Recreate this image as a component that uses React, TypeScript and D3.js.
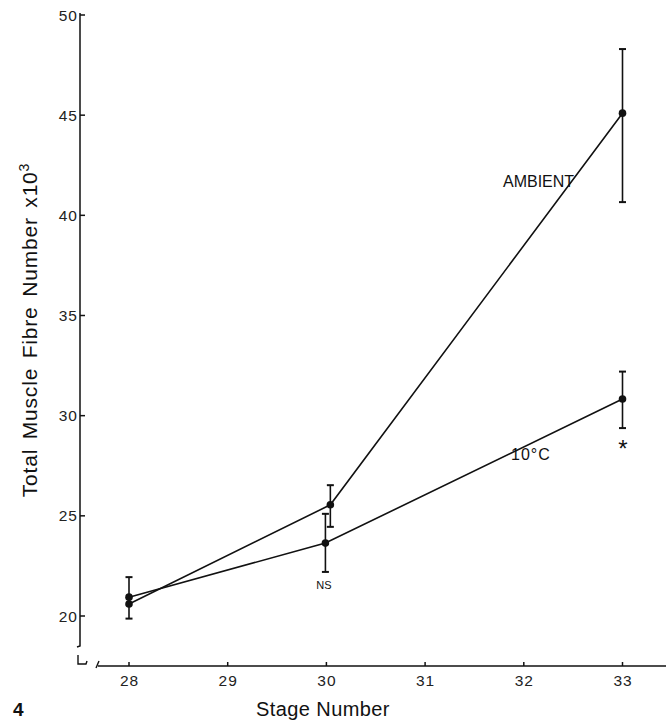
import React from "react";
import * as d3 from "d3";

const stageTicks = [28, 29, 30, 31, 32, 33];
const fibreTicks = [20, 25, 30, 35, 40, 45, 50];

// Ambient series
const ambientStage = [28, 30.04, 33];
const ambientValue = [20.6, 25.55, 45.1];
const ambientLow = [19.87, 24.45, 40.66];
const ambientHigh = [21.94, 26.53, 48.3];

// 10°C series
const coldStage = [28, 29.99, 33];
const coldValue = [20.94, 23.64, 30.83];
const coldLow: (number | null)[] = [null, 22.2, 29.38];
const coldHigh: (number | null)[] = [null, 25.1, 32.2];

const W = 666;
const H = 721;
const FONT = "'Liberation Sans', Arial, Helvetica, sans-serif";

export default function App() {
  const x = d3.scaleLinear().domain([28, 33]).range([129, 622.5]);
  const y = d3.scaleLinear().domain([20, 50]).range([616, 15]);

  const line = d3
    .line<[number, number]>()
    .x((d) => x(d[0]))
    .y((d) => y(d[1]));

  const ambientPts = ambientStage.map((s, i) => [s, ambientValue[i]] as [number, number]);
  const coldPts = coldStage.map((s, i) => [s, coldValue[i]] as [number, number]);

  const errBar = (sx: number, lo: number | null, hi: number | null, key: string) => {
    if (lo == null || hi == null) return null;
    const cx = x(sx);
    return (
      <g key={key} stroke="#111" strokeWidth={1.6}>
        <line x1={cx} x2={cx} y1={y(lo)} y2={y(hi)} />
        <line x1={cx - 3.5} x2={cx + 3.5} y1={y(lo)} y2={y(lo)} strokeWidth={2} />
        <line x1={cx - 3.5} x2={cx + 3.5} y1={y(hi)} y2={y(hi)} strokeWidth={2} />
      </g>
    );
  };

  const axisX = 80;
  const axisY = 666;

  return (
    <svg
      width={W}
      height={H}
      style={{ position: "absolute", left: 0, top: 0, background: "#fff" }}
      fontFamily={FONT}
    >
      <rect width={W} height={H} fill="#fff" />
      {/* Y axis */}
      <path d={`M${axisX},13 L${axisX},646 L${axisX - 3},647`} fill="none" stroke="#111" strokeWidth={1.5} />
      {fibreTicks.map((t) => (
        <g key={"yt" + t}>
          <line x1={axisX} x2={axisX + 5} y1={y(t)} y2={y(t)} stroke="#111" strokeWidth={1.5} />
          <text x={axisX - 2} y={y(t)} dy="0.36em" textAnchor="end" fontSize={15.5} letterSpacing={1} fill="#222">
            {t}
          </text>
        </g>
      ))}
      {/* axis break */}
      <path d="M78,655 L78,664 L86,664 L87,661" fill="none" stroke="#111" strokeWidth={1.4} />
      <path d="M96,668 L99,661" fill="none" stroke="#111" strokeWidth={1.4} />
      {/* X axis */}
      <line x1={98} x2={666} y1={axisY} y2={axisY} stroke="#111" strokeWidth={1.5} />
      {stageTicks.map((t) => (
        <g key={"xt" + t}>
          <line x1={x(t)} x2={x(t)} y1={axisY} y2={axisY - 4} stroke="#111" strokeWidth={1.5} />
          <text x={x(t) + 0.5} y={686} textAnchor="middle" fontSize={15.5} letterSpacing={1} fill="#222">
            {t}
          </text>
        </g>
      ))}

      {/* Error bars */}
      {ambientStage.map((s, i) => errBar(s, ambientLow[i], ambientHigh[i], "ae" + i))}
      {coldStage.map((s, i) => errBar(s, coldLow[i], coldHigh[i], "ce" + i))}

      {/* Lines */}
      <path d={line(ambientPts) || ""} fill="none" stroke="#111" strokeWidth={1.6} />
      <path d={line(coldPts) || ""} fill="none" stroke="#111" strokeWidth={1.6} />

      {/* Points */}
      {ambientPts.map((p, i) => (
        <circle key={"ap" + i} cx={x(p[0])} cy={y(p[1])} r={3.8} fill="#111" />
      ))}
      {coldPts.map((p, i) => (
        <circle key={"cp" + i} cx={x(p[0])} cy={y(p[1])} r={3.8} fill="#111" />
      ))}

      {/* Annotations */}
      <text x={503} y={187} fontSize={16} fill="#111">AMBIENT</text>
      <text x={511} y={460} fontSize={16} fill="#111" letterSpacing={1}>10°C</text>
      <text x={324} y={589} fontSize={11} textAnchor="middle" fill="#111">NS</text>
      <text x={623} y={457} fontSize={24} textAnchor="middle" fill="#111">*</text>

      {/* Axis titles */}
      <text x={323} y={716} fontSize={20} letterSpacing={0.4} textAnchor="middle" fill="#111">Stage Number</text>
      <text
        transform={`translate(37,330) rotate(-90)`}
        fontSize={21}
        letterSpacing={0.8}
        textAnchor="middle"
        fill="#111"
        wordSpacing={3}
      >
        Total Muscle Fibre Number  x10<tspan dy={-8} fontSize={14}>3</tspan>
      </text>
      <text x={13} y={716} fontSize={19} fontWeight="bold" fill="#111">4</text>
    </svg>
  );
}
